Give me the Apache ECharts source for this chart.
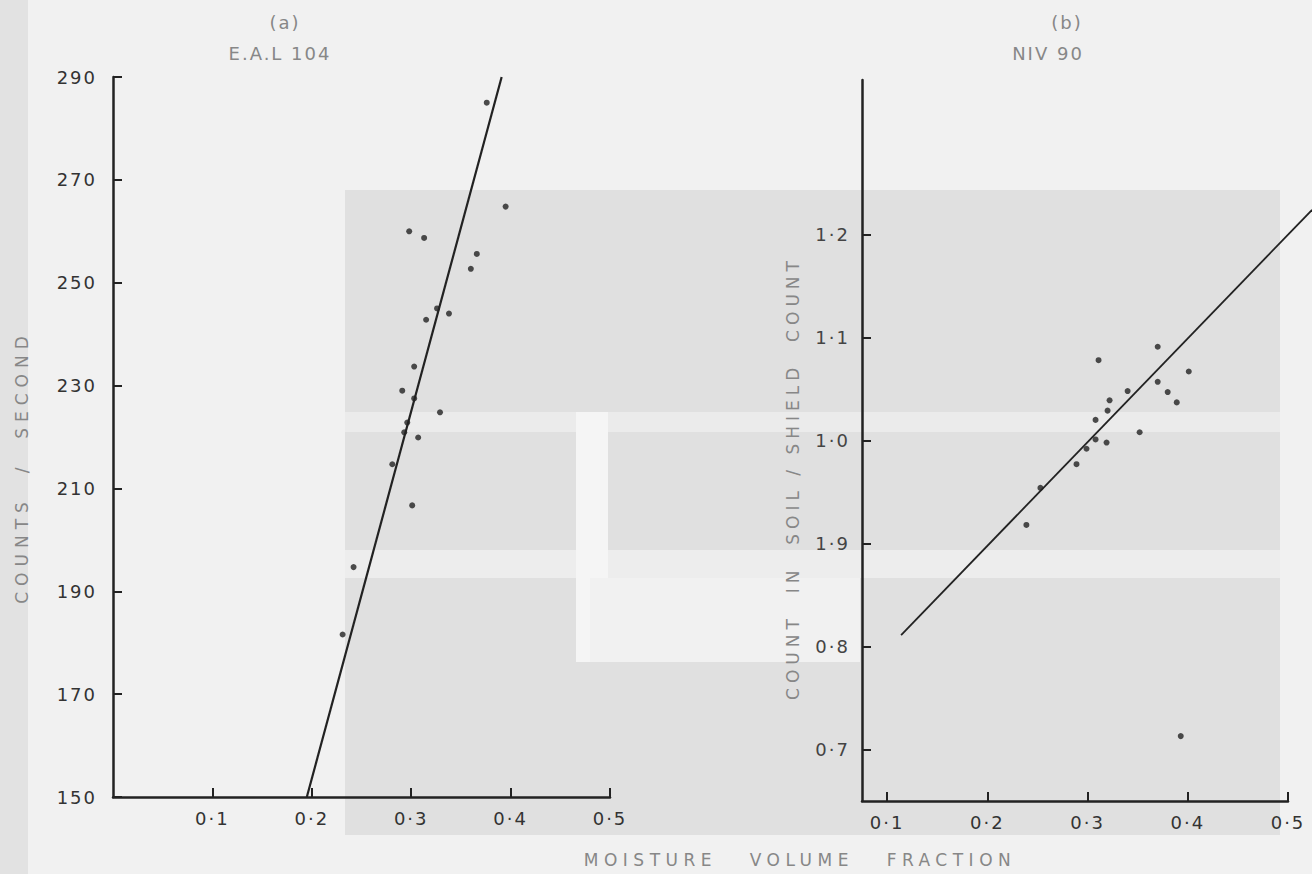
<!DOCTYPE html>
<html>
<head>
<meta charset="utf-8">
<title>Moisture volume fraction calibration</title>
<script src="https://cdn.jsdelivr.net/npm/echarts@6/dist/echarts.min.js"></script>
<style>
  html, body { margin: 0; padding: 0; background: #f1f1f1; }
  #chart { width: 1312px; height: 874px; }
  #chart text { letter-spacing: 2px; }
</style>
</head>
<body>
<div id="chart"></div>
<script>
// (a) E.A.L 104 : counts / second against moisture volume fraction
const aPoints = [
  [0.376, 285], [0.395, 264.8], [0.298, 260], [0.313, 258.7],
  [0.366, 255.6], [0.360, 252.7], [0.326, 245], [0.315, 242.8],
  [0.338, 244], [0.303, 233.7], [0.291, 229], [0.303, 227.5],
  [0.329, 224.8], [0.296, 222.8], [0.293, 220.9], [0.307, 219.9],
  [0.281, 214.7], [0.301, 206.7], [0.242, 194.7], [0.231, 181.6]
];
const aLine = [[0.195, 150], [0.391, 290]];

// (b) NIV 90 : count in soil / shield count
const bPoints = [
  [0.370, 1.091], [0.311, 1.078], [0.401, 1.067], [0.370, 1.057],
  [0.380, 1.047], [0.340, 1.048], [0.389, 1.037], [0.322, 1.039],
  [0.320, 1.029], [0.308, 1.020], [0.352, 1.008], [0.308, 1.001],
  [0.319, 0.998], [0.299, 0.992], [0.289, 0.977], [0.253, 0.954],
  [0.239, 0.918], [0.393, 0.713]
];
// fitted line, runs past the end of the x axis
const bLine = [[0.114, 0.811, 0.524, 1.224]];
const bXTicks = [0.1, 0.2, 0.3, 0.4, 0.5];
const bXTickLabels = ['0·1', '0·2', '0·3', '0·4', '0·5'];
const bYTicks = [0.7, 0.8, 0.9, 1.0, 1.1, 1.2];
const bYTickLabels = ['0·7', '0·8', '1·9', '1·0', '1·1', '1·2'];

const ink = '#222222';
const grey = '#878787';
const font = '"DejaVu Sans", sans-serif';

const dot = v => v.toFixed(1).replace('.', '·');
const pick = (ticks, labels) => v => {
  const i = ticks.findIndex(t => Math.abs(t - v) < 1e-6);
  return i < 0 ? '' : labels[i];
};

const axisBase = {
  axisLine: { lineStyle: { color: ink, width: 2.5 } },
  axisTick: { inside: true, length: 9, lineStyle: { color: ink, width: 2 } },
  axisLabel: { color: '#333333', fontSize: 18, fontFamily: font },
  splitLine: { show: false }
};

const chart = echarts.init(document.getElementById('chart'), null, { renderer: 'svg' });

const option = {
  backgroundColor: '#f1f1f1',
  animation: false,
  grid: [
    { left: 113, right: 702, top: 77, bottom: 77 },
    { left: 862, right: 24, top: 80, bottom: 73 }
  ],
  xAxis: [
    {
      ...axisBase, gridIndex: 0, type: 'value', min: 0, max: 0.5, interval: 0.1,
      axisLabel: { ...axisBase.axisLabel, margin: 12, showMinLabel: false, formatter: dot }
    },
    {
      ...axisBase, gridIndex: 1, type: 'value', min: 0.075, max: 0.5,
      axisTick: { ...axisBase.axisTick, customValues: bXTicks },
      axisLabel: { ...axisBase.axisLabel, margin: 12, customValues: bXTicks, formatter: pick(bXTicks, bXTickLabels) }
    }
  ],
  yAxis: [
    {
      ...axisBase, gridIndex: 0, type: 'value', min: 150, max: 290, interval: 20,
      axisLabel: { ...axisBase.axisLabel, margin: 16 }
    },
    {
      ...axisBase, gridIndex: 1, type: 'value', min: 0.65, max: 1.35,
      axisTick: { ...axisBase.axisTick, customValues: bYTicks },
      axisLabel: { ...axisBase.axisLabel, color: '#444444', margin: 12, customValues: bYTicks, formatter: pick(bYTicks, bYTickLabels) }
    }
  ],
  series: [
    { type: 'scatter', xAxisIndex: 0, yAxisIndex: 0, data: aPoints, symbolSize: 6, itemStyle: { color: ink } },
    { type: 'line', xAxisIndex: 0, yAxisIndex: 0, data: aLine, showSymbol: false, lineStyle: { color: ink, width: 2.2 } },
    { type: 'scatter', xAxisIndex: 1, yAxisIndex: 1, data: bPoints, symbolSize: 6, itemStyle: { color: ink } },
    {
      type: 'custom', xAxisIndex: 1, yAxisIndex: 1, data: bLine, clip: false,
      encode: { x: [0, 2], y: [1, 3] },
      renderItem: (params, api) => {
        const p1 = api.coord([api.value(0), api.value(1)]);
        const p2 = api.coord([api.value(2), api.value(3)]);
        return {
          type: 'line',
          shape: { x1: p1[0], y1: p1[1], x2: p2[0], y2: p2[1] },
          style: { stroke: ink, lineWidth: 1.8 }
        };
      }
    }
  ],
  graphic: [
    // photocopy shading behind the plots
    { type: 'rect', z: -10, silent: true, shape: { x: 0, y: 0, width: 28, height: 874 }, style: { fill: '#e2e2e2' } },
    { type: 'rect', z: -10, silent: true, shape: { x: 345, y: 190, width: 935, height: 645 }, style: { fill: '#e0e0e0' } },
    { type: 'rect', z: -9, silent: true, shape: { x: 345, y: 412, width: 935, height: 20 }, style: { fill: '#ebebeb' } },
    { type: 'rect', z: -9, silent: true, shape: { x: 345, y: 550, width: 935, height: 28 }, style: { fill: '#ededed' } },
    { type: 'rect', z: -9, silent: true, shape: { x: 576, y: 412, width: 32, height: 250 }, style: { fill: '#f5f5f5' } },
    { type: 'rect', z: -9, silent: true, shape: { x: 590, y: 578, width: 270, height: 84 }, style: { fill: '#f1f1f1' } },
    // titles
    { type: 'text', x: 285, y: 22, style: { text: '(a)', fill: grey, font: '18px ' + font, textAlign: 'center', textVerticalAlign: 'middle' } },
    { type: 'text', x: 280, y: 53, style: { text: 'E.A.L 104', fill: grey, font: '18px ' + font, textAlign: 'center', textVerticalAlign: 'middle' } },
    { type: 'text', x: 1067, y: 22, style: { text: '(b)', fill: grey, font: '18px ' + font, textAlign: 'center', textVerticalAlign: 'middle' } },
    { type: 'text', x: 1048, y: 53, style: { text: 'NIV 90', fill: grey, font: '18px ' + font, textAlign: 'center', textVerticalAlign: 'middle' } },
    // axis names
    { type: 'text', x: 22, y: 467, rotation: Math.PI / 2, style: { text: 'COUNTS  /  SECOND', fill: grey, font: '17px ' + font, textAlign: 'center', textVerticalAlign: 'middle' } },
    { type: 'text', x: 793, y: 478, rotation: Math.PI / 2, style: { text: 'COUNT  IN  SOIL / SHIELD  COUNT', fill: grey, font: '17px ' + font, textAlign: 'center', textVerticalAlign: 'middle' } },
    { type: 'text', x: 800, y: 860, style: { text: 'MOISTURE   VOLUME   FRACTION', fill: grey, font: '17px ' + font, textAlign: 'center', textVerticalAlign: 'middle' } }
  ]
};

chart.setOption(option);

// the lettering on the original is widely spaced
const spacing = {
  'COUNTS  /  SECOND': '6px',
  'COUNT  IN  SOIL / SHIELD  COUNT': '5px',
  'MOISTURE   VOLUME   FRACTION': '5.5px'
};
const spaceOut = () => {
  document.querySelectorAll('#chart text').forEach(t => {
    const s = spacing[t.textContent];
    if (s) t.style.letterSpacing = s;
  });
};
chart.on('finished', spaceOut);
spaceOut();
</script>
</body>
</html>
